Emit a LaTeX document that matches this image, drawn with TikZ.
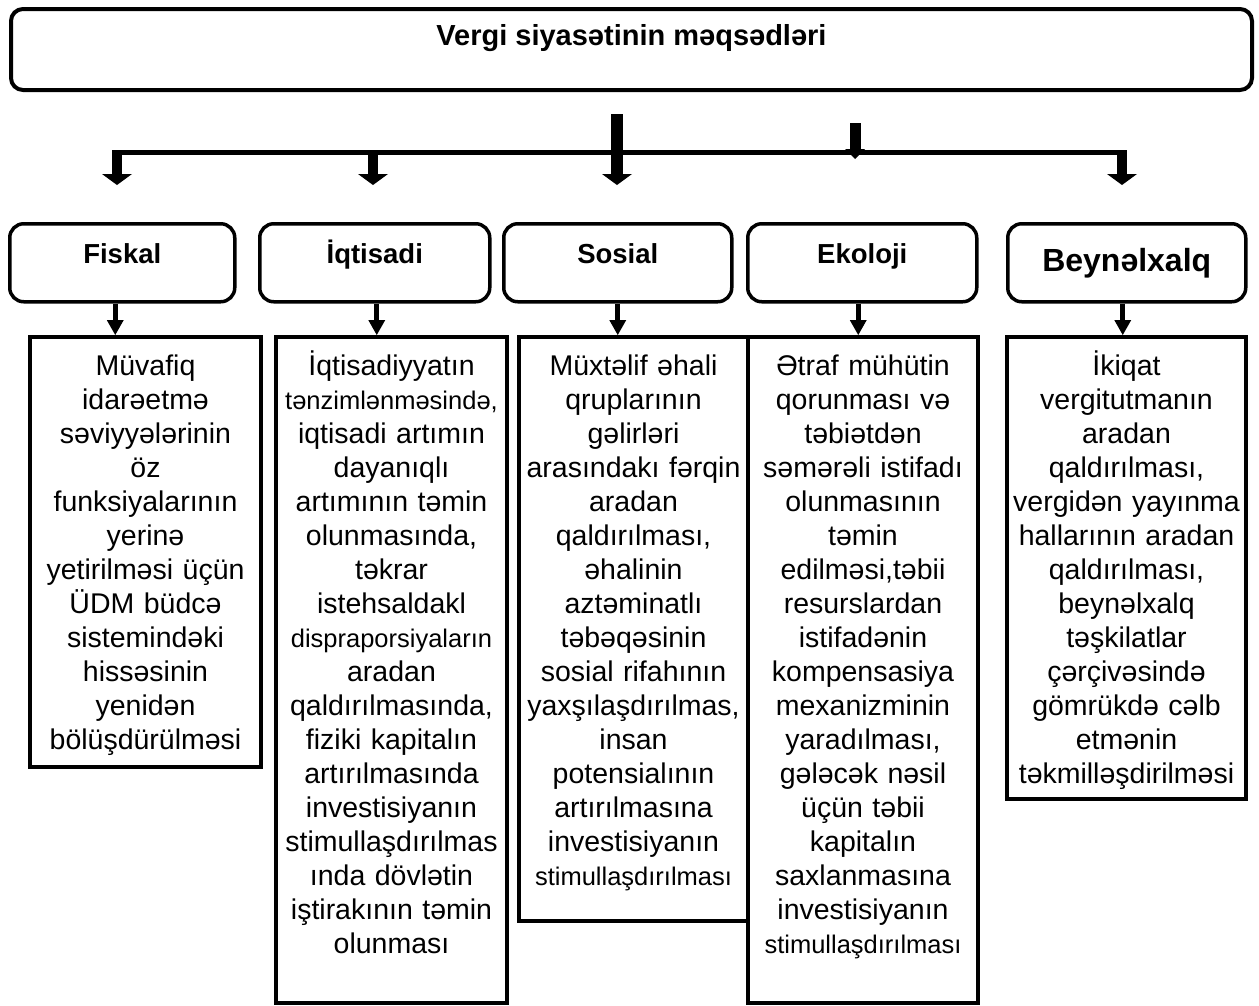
\documentclass[tikz,border=0pt]{standalone}
\usepackage{fontspec}
\setmainfont{Liberation Sans}
\usetikzlibrary{arrows.meta}
% fixed height of the first line in every goal text
\newcommand\firststrut{\rule{0pt}{30pt}}
% a slightly smaller line inside a goal text
\newcommand\smallline[1]{{\fontsize{25.5}{34}\selectfont #1}}
\begin{document}
\begin{tikzpicture}[x=1pt,y=-1pt,
  titlebox/.style={draw, line width=4pt, rounded corners=12pt, anchor=north west,
    inner xsep=0pt, inner ysep=0pt, font=\fontsize{29}{34}\selectfont\bfseries},
  headbox/.style={draw, line width=3.5pt, rounded corners=14pt, anchor=north west,
    inner xsep=0pt, inner ysep=0pt, text height=40pt, text depth=38pt,
    font=\fontsize{27.5}{32}\selectfont\bfseries},
  goalbox/.style={draw, line width=4pt, anchor=north west, inner sep=0pt},
  goaltext/.style={anchor=north, inner sep=0pt, align=center, text width=240pt,
    font=\fontsize{28.5}{34}\selectfont, execute at begin node=\firststrut},
  busline/.style={line width=5pt},
  mainarrow/.style={line width=12pt, -{Triangle[width=30pt,length=11pt,line width=0pt]}},
  sidearrow/.style={line width=10pt, -{Triangle[width=30pt,length=11pt,line width=0pt]}},
  smallarrow/.style={line width=11pt, -{Triangle[width=20pt,length=10pt,line width=0pt]}},
  headarrow/.style={line width=5pt, -{Triangle[width=17pt,length=15pt,line width=0pt]}}
]
\useasboundingbox (0,0) rectangle (1259,1005);

% title
\node[titlebox, minimum width=1241pt, text height=36pt, text depth=45pt] (title) at (9,7)
  {Vergi siyasətinin  məqsədləri};

% group headers
\node[headbox, minimum width=225pt] (fiskal) at (8,222) {Fiskal};
\node[headbox, minimum width=230pt] (iqtisadi) at (258,222) {İqtisadi};
\node[headbox, minimum width=228pt] (sosial) at (502,222) {Sosial};
\node[headbox, minimum width=229pt] (ekoloji) at (746,222) {Ekoloji};
\node[headbox, minimum width=238pt, text height=48pt, text depth=30pt,
  font=\fontsize{32}{36}\selectfont\bfseries] (beynelxalq) at (1006,222) {Beynəlxalq};

% distribution bus and its arrows
\coordinate (busW) at (112,152);
\coordinate (busE) at (1127,152);
\coordinate (hub) at (617,114);
\coordinate (dropF) at (117,150);
\coordinate (dropI) at (373,150);
\coordinate (dropB) at (1122,150);
\coordinate (ekoTop) at (855,123);
\coordinate (ekoTip) at (855,159);
\draw[busline] (busW) -- (busE);
\draw[mainarrow] (hub) -- ([yshift=37pt]sosial.north -| hub);
\draw[sidearrow] (dropF) -- ([yshift=37pt]fiskal.north -| dropF);
\draw[sidearrow] (dropI) -- ([yshift=37pt]iqtisadi.north -| dropI);
\draw[sidearrow] (dropB) -- ([yshift=37pt]beynelxalq.north -| dropB);
\draw[smallarrow] (ekoTop) -- (ekoTip);

% goal boxes
\node[goalbox, minimum width=231pt, minimum height=430pt] (fiskalBox) at (28,335) {};
\node[goalbox, minimum width=231pt, minimum height=666pt] (iqtisadiBox) at (274,335) {};
\node[goalbox, minimum width=229pt, minimum height=584pt] (sosialBox) at (517,335) {};
\node[goalbox, minimum width=230pt, minimum height=666pt] (ekolojiBox) at (746,335) {};
\node[goalbox, minimum width=239pt, minimum height=462pt] (beynBox) at (1005,335) {};

% header to box arrows
\draw[headarrow] ([xshift=-7pt]fiskal.south) -- ([xshift=-7pt]fiskal.south |- fiskalBox.north);
\draw[headarrow] ([xshift=2pt]iqtisadi.south) -- ([xshift=2pt]iqtisadi.south |- iqtisadiBox.north);
\draw[headarrow] (sosial.south) -- (sosial.south |- sosialBox.north);
\draw[headarrow] ([xshift=-4pt]ekoloji.south) -- ([xshift=-4pt]ekoloji.south |- ekolojiBox.north);
\draw[headarrow] ([xshift=-4pt]beynelxalq.south) -- ([xshift=-4pt]beynelxalq.south |- beynBox.north);

% goal texts
\node[goaltext] (fiskalText) at ([yshift=-10pt]fiskalBox.north) {%
  Müvafiq\\ idarəetmə\\ səviyyələrinin\\ öz\\ funksiyalarının\\ yerinə\\
  yetirilməsi üçün\\ ÜDM büdcə\\ sistemindəki\\ hissəsinin\\ yenidən\\ bölüşdürülməsi};

\node[goaltext] (iqtisadiText) at ([yshift=-10pt]iqtisadiBox.north) {%
  İqtisadiyyatın\\ \smallline{tənzimlənməsində,}\\ iqtisadi artımın\\ dayanıqlı\\
  artımının təmin\\ olunmasında,\\ təkrar\\ istehsaldakl\\ \smallline{dispraporsiyaların}\\
  aradan\\ qaldırılmasında,\\ fiziki kapitalın\\ artırılmasında\\ investisiyanın\\
  stimullaşdırılmas\\ ında dövlətin\\ iştirakının təmin\\ olunması};

\node[goaltext] (sosialText) at ([yshift=-10pt]sosialBox.north) {%
  Müxtəlif əhali\\ qruplarının\\ gəlirləri\\ arasındakı fərqin\\ aradan\\
  qaldırılması,\\ əhalinin\\ aztəminatlı\\ təbəqəsinin\\ sosial rifahının\\
  yaxşılaşdırılmas,\\ insan\\ potensialının\\ artırılmasına\\ investisiyanın\\
  \smallline{stimullaşdırılması}};

\node[goaltext] (ekolojiText) at ([yshift=-10pt]ekolojiBox.north) {%
  Ətraf mühütin\\ qorunması və\\ təbiətdən\\ səmərəli istifadı\\ olunmasının\\
  təmin\\ edilməsi,təbii\\ resurslardan\\ istifadənin\\ kompensasiya\\
  mexanizminin\\ yaradılması,\\ gələcək nəsil\\ üçün təbii\\ kapitalın\\
  saxlanmasına\\ investisiyanın\\ \smallline{stimullaşdırılması}};

\node[goaltext] (beynText) at ([yshift=-10pt]beynBox.north) {%
  İkiqat\\ vergitutmanın\\ aradan\\ qaldırılması,\\ vergidən yayınma\\
  hallarının aradan\\ qaldırılması,\\ beynəlxalq\\ təşkilatlar\\ çərçivəsində\\
  gömrükdə cəlb\\ etmənin\\ təkmilləşdirilməsi};
\end{tikzpicture}
\end{document}
